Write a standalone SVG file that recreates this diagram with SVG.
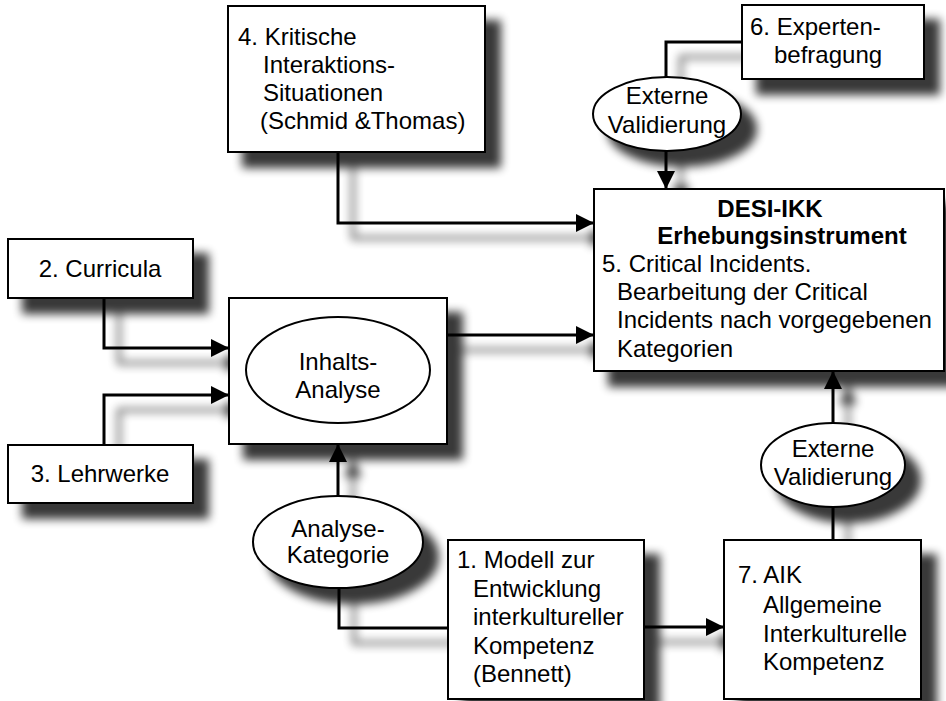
<svg xmlns="http://www.w3.org/2000/svg" xmlns:xlink="http://www.w3.org/1999/xlink" width="946" height="701" viewBox="0 0 946 701">
<style>
text{font-family:"Liberation Sans",Arial,sans-serif;font-size:24px;fill:#000}
.b{font-weight:bold}
.c{text-anchor:middle}
.box{fill:#fff;stroke:#000;stroke-width:2}
.ell{fill:#fff;stroke:#000;stroke-width:2}
.con{fill:none;stroke:#000;stroke-width:3}
.arr{marker-end:url(#ah)}
</style>
<defs>
<marker id="ah" markerUnits="userSpaceOnUse" markerWidth="20" markerHeight="20" refX="18" refY="9" orient="auto">
<path d="M0,0 L18,9 L0,18 z" fill="#000"/>
</marker>
<filter id="shadow" filterUnits="userSpaceOnUse" x="-50" y="-50" width="1100" height="850">
<feGaussianBlur in="SourceAlpha" stdDeviation="5"/>
<feOffset dx="15" dy="15"/>
<feComponentTransfer><feFuncA type="linear" slope="0.78"/></feComponentTransfer>
</filter>
</defs>
<rect width="946" height="701" fill="#fff"/>
<use xlink:href="#diagram" filter="url(#shadow)"/>
<g id="diagram">
<g id="connectors">
<path class="con arr" d="M338,153 V223 H594"/>
<path class="con arr" d="M447,335 H594"/>
<path class="con arr" d="M104,298 V348 H229"/>
<path class="con arr" d="M104,445 V395 H229"/>
<path class="con arr" d="M338,496 V444"/>
<path class="con" d="M448,628 H339 V588"/>
<path class="con arr" d="M645,627 H724"/>
<path class="con" d="M833,540 V507"/>
<path class="con arr" d="M833,423 V371"/>
<path class="con" d="M742,42 H666 V78"/>
<path class="con arr" d="M666,151 V189"/>
</g>
<g id="n4">
<rect class="box" x="228" y="6" width="257" height="146"/>
<text x="238" y="45">4. Kritische</text>
<text x="263" y="73">Interaktions-</text>
<text x="263" y="101">Situationen</text>
<text x="260" y="129">(Schmid &amp;Thomas)</text>
</g>
<g id="n6">
<rect class="box" x="742" y="5" width="182" height="74"/>
<text x="750" y="35">6. Experten-</text>
<text x="774" y="63">befragung</text>
</g>
<g id="v1">
<ellipse class="ell" cx="667" cy="114" rx="74" ry="37"/>
<text class="c" x="667" y="104">Externe</text>
<text class="c" x="667" y="133">Validierung</text>
</g>
<g id="n5">
<rect class="box" x="594" y="189" width="350" height="182"/>
<text class="b c" x="770" y="217">DESI-IKK</text>
<text class="b c" x="782" y="244">Erhebungsinstrument</text>
<text x="602" y="272">5. Critical Incidents.</text>
<text x="617" y="300">Bearbeitung der Critical</text>
<text x="617" y="328">Incidents nach vorgegebenen</text>
<text x="617" y="357">Kategorien</text>
</g>
<g id="n2">
<rect class="box" x="8" y="239" width="185" height="59"/>
<text class="c" x="100" y="277">2. Curricula</text>
</g>
<g id="n3">
<rect class="box" x="8" y="445" width="185" height="58"/>
<text class="c" x="100" y="482">3. Lehrwerke</text>
</g>
<g id="inhalt">
<rect class="box" x="229" y="298" width="218" height="146"/>
<ellipse class="ell" cx="338" cy="370" rx="92" ry="53"/>
<text class="c" x="338" y="370">Inhalts-</text>
<text class="c" x="338" y="398">Analyse</text>
</g>
<g id="analyse">
<ellipse class="ell" cx="338" cy="542" rx="85" ry="46"/>
<text class="c" x="338" y="537">Analyse-</text>
<text class="c" x="338" y="563">Kategorie</text>
</g>
<g id="v2">
<ellipse class="ell" cx="833" cy="465" rx="72" ry="42"/>
<text class="c" x="833" y="457">Externe</text>
<text class="c" x="833" y="485">Validierung</text>
</g>
<g id="n1">
<rect class="box" x="448" y="540" width="196" height="159"/>
<text x="457" y="568">1. Modell zur</text>
<text x="473" y="597">Entwicklung</text>
<text x="473" y="625">interkultureller</text>
<text x="473" y="654">Kompetenz</text>
<text x="473" y="682">(Bennett)</text>
</g>
<g id="n7">
<rect class="box" x="724" y="540" width="197" height="159"/>
<text x="738" y="583">7. AIK</text>
<text x="763" y="613">Allgemeine</text>
<text x="763" y="642">Interkulturelle</text>
<text x="763" y="670">Kompetenz</text>
</g>
</g>
</svg>
